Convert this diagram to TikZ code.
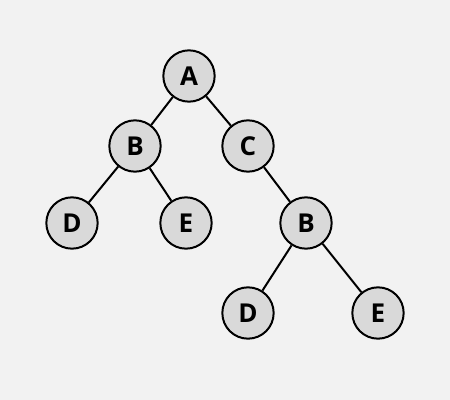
\documentclass[tikz,border=0pt]{standalone}
\usepackage{fontspec}
\setmainfont{Open Sans}
\begin{document}
\begin{tikzpicture}[x=0.75pt,y=-0.75pt,
  tnode/.style={circle,draw=black,line width=1.5pt,fill=nodegray,minimum size=38.5pt,inner sep=0pt,font=\fontsize{19.5}{22}\selectfont\bfseries},
  edge/.style={line width=1.5pt,draw=black}]
\definecolor{bggray}{HTML}{F2F2F2}
\definecolor{nodegray}{HTML}{D9D9D9}
\fill[bggray] (0,0) rectangle (450,400);
\useasboundingbox (0,0) rectangle (450,400);
\node[tnode] (A) at (189,76) {A};
\node[tnode] (B) at (135,146) {B};
\node[tnode] (C) at (248,146) {C};
\node[tnode] (D) at (72,223) {D};
\node[tnode] (E) at (186,223) {E};
\node[tnode] (B2) at (306,223) {B};
\node[tnode] (D2) at (248,313) {D};
\node[tnode] (E2) at (378,313) {E};
\draw[edge] (A) -- (B);
\draw[edge] (A) -- (C);
\draw[edge] (B) -- (D);
\draw[edge] (B) -- (E);
\draw[edge] (C) -- (B2);
\draw[edge] (B2) -- (D2);
\draw[edge] (B2) -- (E2);
\end{tikzpicture}
\end{document}
